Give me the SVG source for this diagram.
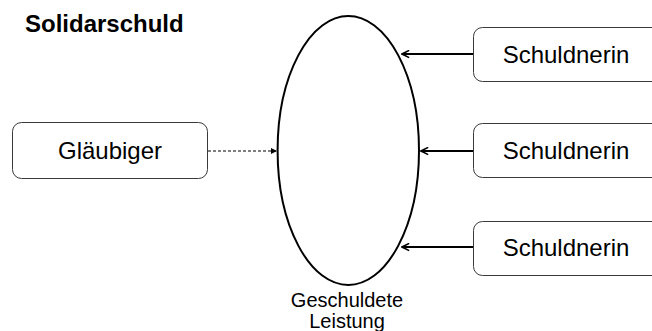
<svg xmlns="http://www.w3.org/2000/svg" width="652" height="331" viewBox="0 0 652 331">
  <style>
    text { font-family: "Liberation Sans", Arial, sans-serif; fill: #000; }
    .box { fill: #fff; stroke: #3a3a3a; stroke-width: 1; }
    .label { font-size: 24px; text-anchor: middle; }
    .title { font-size: 24px; font-weight: bold; }
    .small { font-size: 20px; text-anchor: middle; }
    .solid { stroke: #000; stroke-width: 2; fill: none; marker-end: url(#chevron); }
    .dashed { stroke: #555; stroke-width: 1.3; stroke-dasharray: 3 2; fill: none; marker-end: url(#tri); }
  </style>
  <defs>
    <marker id="chevron" viewBox="0 0 10 10" refX="9" refY="5" markerWidth="9" markerHeight="9" markerUnits="userSpaceOnUse" orient="auto">
      <path d="M1,1 L9,5 L1,9" fill="none" stroke="#000" stroke-width="1.8"/>
    </marker>
    <marker id="tri" viewBox="0 0 10 10" refX="10" refY="5" markerWidth="6" markerHeight="6" markerUnits="userSpaceOnUse" orient="auto">
      <path d="M0,0 L10,5 L0,10 Z" fill="#000"/>
    </marker>
  </defs>

  <rect width="652" height="331" fill="#fff"/>

  <text class="title" x="25" y="32">Solidarschuld</text>

  <g id="leistung">
    <ellipse cx="348.3" cy="150.5" rx="70.7" ry="134.5" fill="#fff" stroke="#000" stroke-width="2"/>
    <text class="small" x="347" y="307">Geschuldete</text>
    <text class="small" x="347" y="328">Leistung</text>
  </g>

  <g id="glaeubiger">
    <rect class="box" x="12.5" y="122.5" width="195" height="56" rx="9"/>
    <text class="label" x="110" y="159">Gläubiger</text>
  </g>

  <g id="schuldnerin-1">
    <rect class="box" x="473.5" y="27.5" width="190" height="54" rx="9"/>
    <text class="label" x="566" y="63">Schuldnerin</text>
  </g>

  <g id="schuldnerin-2">
    <rect class="box" x="473.5" y="123.5" width="190" height="54" rx="9"/>
    <text class="label" x="566" y="159">Schuldnerin</text>
  </g>

  <g id="schuldnerin-3">
    <rect class="box" x="473.5" y="221.5" width="190" height="54" rx="9"/>
    <text class="label" x="566" y="256">Schuldnerin</text>
  </g>

  <g id="connectors">
    <line class="dashed" x1="208" y1="151" x2="277" y2="151"/>
    <line class="solid" x1="473" y1="54" x2="402" y2="54"/>
    <line class="solid" x1="473" y1="151" x2="421" y2="151"/>
    <line class="solid" x1="473" y1="247" x2="402" y2="247"/>
  </g>
</svg>
